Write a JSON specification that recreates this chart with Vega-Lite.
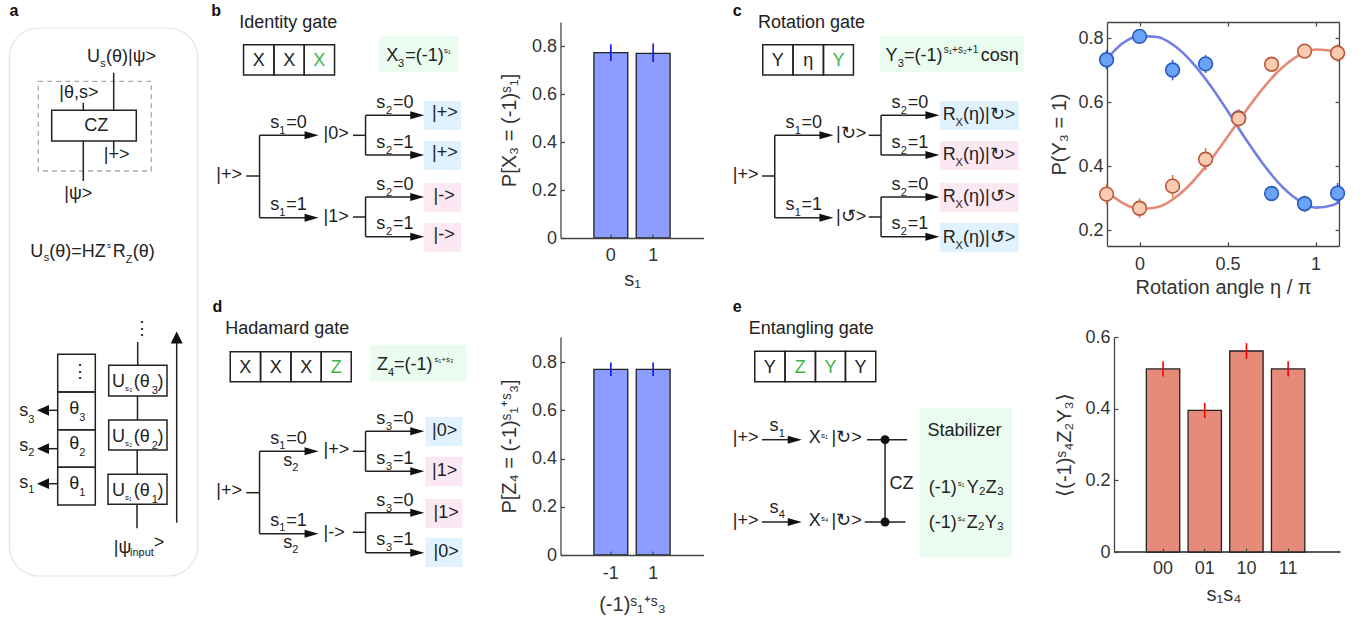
{"$schema":"https://vega.github.io/schema/vega-lite/v6.json","padding":0,"background":"white","bounds":"flush","spacing":{"row":0,"column":-0.75},"align":"none","columns":5,
"config":{"view":{"stroke":null},"axis":{"grid":false,"domainColor":"#444","tickColor":"#444","labelColor":"#333","titleColor":"#333","labelFont":"Liberation Sans","titleFont":"Liberation Sans","labelFontSize":18,"titleFontSize":20,"titleFontWeight":"normal","tickSize":-4,"labelPadding":8,"domainWidth":1.3,"tickWidth":1.2,"labelAngle":0}},
"concat":[
{"width":205,"height":21,"encoding":{"x":{"field":"x","type":"quantitative","scale":{"domain":[0,205]},"axis":null},"y":{"field":"y","type":"quantitative","scale":{"domain":[21,0]},"axis":null}},
"layer":[
{"data":{"values":[{"x":0,"y":0,"x2":205,"y2":619}]},"mark":{"type":"rect","fill":"white"},"encoding":{"x2":{"field":"x2"},"y2":{"field":"y2"}}},
{"data":{"values":[{"x":8.3,"y":27,"x2":196.7,"y2":575}]},"mark":{"type":"rect","fill":null,"stroke":"#e6e6e6","strokeWidth":1.2,"cornerRadius":30},"encoding":{"x2":{"field":"x2"},"y2":{"field":"y2"}}},
{"data":{"values":[{"x":37.3,"y":80.3,"x2":150.3,"y2":170}]},"mark":{"type":"rect","fill":null,"stroke":"#aaa","strokeWidth":1.3,"strokeDash":[5,4]},"encoding":{"x2":{"field":"x2"},"y2":{"field":"y2"}}},
{"data":{"values":[{"x":50.7,"y":109.3,"x2":135.3,"y2":140},{"x":56.7,"y":353.3,"x2":94.3,"y2":391},{"x":56.7,"y":391,"x2":94.3,"y2":428.7},{"x":56.7,"y":428.7,"x2":94.3,"y2":466.3},{"x":56.7,"y":466.3,"x2":94.3,"y2":504},{"x":107.7,"y":364.3,"x2":166,"y2":395},{"x":107.7,"y":419,"x2":166,"y2":449},{"x":107,"y":473.3,"x2":166,"y2":503.3}]},"mark":{"type":"rect","fill":null,"stroke":"#222","strokeWidth":1.5},"encoding":{"x2":{"field":"x2"},"y2":{"field":"y2"}}},
{"data":{"values":[{"x":112.7,"y":71.7,"x2":112.7,"y2":109.3},{"x":82.3,"y":101.7,"x2":82.3,"y2":109.3},{"x":82.3,"y":140,"x2":82.3,"y2":180},{"x":112.7,"y":140,"x2":112.7,"y2":148.3},{"x":56.7,"y":409.3,"x2":44,"y2":409.3},{"x":56.7,"y":447.7,"x2":44,"y2":447.7},{"x":56.7,"y":482.7,"x2":44,"y2":482.7},{"x":136.7,"y":341,"x2":136.7,"y2":364.3},{"x":136.5,"y":395,"x2":136.5,"y2":419},{"x":136.2,"y":449,"x2":136.2,"y2":473.3},{"x":136,"y":503.3,"x2":136,"y2":527.3},{"x":175.7,"y":521.7,"x2":175.7,"y2":340}]},"mark":{"type":"rule","color":"#222","strokeWidth":1.5},"encoding":{"x2":{"field":"x2"},"y2":{"field":"y2"}}},
{"data":{"values":[{"x":42,"y":409.3},{"x":42,"y":447.7},{"x":42,"y":482.7}]},"mark":{"type":"point","shape":"M1,-0.9 L-1,0 L1,0.9 Z","filled":true,"opacity":1,"color":"#111","size":144}},
{"data":{"values":[{"x":175.7,"y":336.5}]},"mark":{"type":"point","shape":"M-1,1 L0,-1 L1,1 Z","filled":true,"opacity":1,"color":"#111","size":144}},
{"data":{"values":[{"x":86,"y":61,"t":"U"},{"x":105,"y":61,"t":"(θ)|ψ>"},{"x":58.3,"y":97.3,"t":"|θ,s>"},{"x":102.7,"y":159.3,"t":"|+>"},{"x":63.3,"y":198.3,"t":"|ψ>"},{"x":29.3,"y":256,"t":"U"},{"x":48.3,"y":256,"t":"(θ)=HZ"},{"x":111.7,"y":256,"t":"R"},{"x":131.7,"y":256,"t":"(θ)"},{"x":68.3,"y":413.3,"t":"θ"},{"x":68.3,"y":448.3,"t":"θ"},{"x":68.3,"y":487.7,"t":"θ"},{"x":18.3,"y":415,"t":"s"},{"x":18.3,"y":450,"t":"s"},{"x":18.3,"y":487,"t":"s"},{"x":111,"y":386,"t":"U"},{"x":132.7,"y":386,"t":"(θ"},{"x":156.5,"y":386,"t":")"},{"x":111,"y":440.7,"t":"U"},{"x":132.7,"y":440.7,"t":"(θ"},{"x":156.5,"y":440.7,"t":")"},{"x":111,"y":495,"t":"U"},{"x":132.7,"y":495,"t":"(θ"},{"x":156.5,"y":495,"t":")"},{"x":112.7,"y":551.7,"t":"|ψ"},{"x":152.7,"y":547,"t":">"},{"x":69.5,"y":376,"t":"⋮"},{"x":132,"y":333,"t":"⋮"}]},"mark":{"type":"text","align":"left","baseline":"alphabetic","font":"Liberation Sans","fontSize":18,"color":"#222"},"encoding":{"text":{"field":"t","type":"nominal"}}},
{"data":{"values":[{"x":95.3,"y":130,"t":"CZ"}]},"mark":{"type":"text","align":"center","baseline":"alphabetic","font":"Liberation Sans","fontSize":18,"color":"#222"},"encoding":{"text":{"field":"t","type":"nominal"}}},
{"data":{"values":[{"x":124.7,"y":262,"t":"Z"},{"x":42.7,"y":260,"t":"s"},{"x":78.3,"y":420,"t":"3"},{"x":78.3,"y":455,"t":"2"},{"x":78.3,"y":495,"t":"1"},{"x":27.3,"y":421.7,"t":"3"},{"x":27.3,"y":455,"t":"2"},{"x":27.3,"y":492,"t":"1"},{"x":150.7,"y":393,"t":"3"},{"x":150.7,"y":447.7,"t":"2"},{"x":150.7,"y":502,"t":"1"},{"x":129,"y":555,"t":"input"},{"x":99.3,"y":66,"t":"s"}]},"mark":{"type":"text","align":"left","baseline":"alphabetic","font":"Liberation Sans","fontSize":11,"color":"#222"},"encoding":{"text":{"field":"t","type":"nominal"}}},
{"data":{"values":[{"x":106,"y":247,"t":"s"},{"x":124,"y":390,"t":"s₃"},{"x":124,"y":444.7,"t":"s₂"},{"x":124,"y":499,"t":"s₁"}]},"mark":{"type":"text","align":"left","baseline":"alphabetic","font":"Liberation Sans","fontSize":8,"color":"#222"},"encoding":{"text":{"field":"t","type":"nominal"}}},
{"data":{"values":[{"x":8.5,"y":15,"t":"a"}]},"mark":{"type":"text","align":"left","baseline":"alphabetic","font":"Liberation Sans","fontSize":16,"fontWeight":"bold","color":"#111"},"encoding":{"text":{"field":"t","type":"nominal"}}}
]},
{"width":1,"height":21,"data":{"values":[{"x":0}]},"mark":{"type":"rule","opacity":0},"encoding":{}},
{"width":1,"height":21,"data":{"values":[{"x":0}]},"mark":{"type":"rule","opacity":0},"encoding":{}},
{"width":1,"height":21,"data":{"values":[{"x":0}]},"mark":{"type":"rule","opacity":0},"encoding":{}},
{"width":1,"height":21,"data":{"values":[{"x":0}]},"mark":{"type":"rule","opacity":0},"encoding":{}},
{"width":205,"height":1,"data":{"values":[{"x":0}]},"mark":{"type":"rule","opacity":0},"encoding":{}},
{"width":356,"height":216,"encoding":{"x":{"field":"x","type":"quantitative","scale":{"domain":[205,561]},"axis":null},"y":{"field":"y","type":"quantitative","scale":{"domain":[237,21]},"axis":null}},
"layer":[
{"data":{"values":[{"x":379,"y":35,"x2":457.7,"y2":71,"tone":"green"},{"x":424,"y":100,"x2":460.7,"y2":129,"tone":"blue"},{"x":424,"y":140,"x2":460.7,"y2":169,"tone":"blue"},{"x":424,"y":182,"x2":460.7,"y2":211,"tone":"pink"},{"x":424,"y":222,"x2":460.7,"y2":250.7,"tone":"pink"}]},"mark":{"type":"rect"},"encoding":{"x2":{"field":"x2"},"y2":{"field":"y2"},"color":{"field":"tone","type":"nominal","legend":null,"scale":{"domain":["green","blue","pink"],"range":["#e9fcef","#e0f2fd","#fce8f3"]}}}},
{"data":{"values":[{"x":243.3,"y":43.7,"x2":273.7,"y2":74},{"x":273.7,"y":43.7,"x2":304,"y2":74},{"x":304,"y":43.7,"x2":334.3,"y2":74}]},"mark":{"type":"rect","fill":null,"stroke":"#222","strokeWidth":1.5},"encoding":{"x2":{"field":"x2"},"y2":{"field":"y2"}}},
{"data":{"values":[{"x":246,"y":175,"x2":259.3,"y2":175},{"x":259.3,"y":134.3,"x2":259.3,"y2":216.7},{"x":259.3,"y":134.3,"x2":310,"y2":134.3},{"x":259.3,"y":216.7,"x2":310,"y2":216.7},{"x":352.7,"y":134.3,"x2":365.3,"y2":134.3},{"x":365.3,"y":114.3,"x2":365.3,"y2":154},{"x":365.3,"y":114.3,"x2":416,"y2":114.3},{"x":365.3,"y":154,"x2":416,"y2":154},{"x":352.7,"y":216,"x2":365.3,"y2":216},{"x":365.3,"y":196,"x2":365.3,"y2":235.7},{"x":365.3,"y":196,"x2":416,"y2":196},{"x":365.3,"y":235.7,"x2":416,"y2":235.7}]},"mark":{"type":"rule","color":"#222","strokeWidth":1.5},"encoding":{"x2":{"field":"x2"},"y2":{"field":"y2"}}},
{"data":{"values":[{"x":311.3,"y":134.3},{"x":311.3,"y":216.7},{"x":417,"y":114.3},{"x":417,"y":154},{"x":417,"y":196},{"x":417,"y":235.7}]},"mark":{"type":"point","shape":"M-1,-0.57 L1,0 L-1,0.57 Z","filled":true,"opacity":1,"color":"#111","size":196}},
{"data":{"values":[{"x":239,"y":27,"t":"Identity gate"},{"x":386,"y":60,"t":"X"},{"x":405,"y":60,"t":"=(-1)"},{"x":216,"y":179,"t":"|+>"},{"x":270,"y":126.7,"t":"s"},{"x":286,"y":126.7,"t":"=0"},{"x":270,"y":209,"t":"s"},{"x":286,"y":209,"t":"=1"},{"x":323.3,"y":138.3,"t":"|0>"},{"x":323.3,"y":220.7,"t":"|1>"},{"x":376,"y":107.3,"t":"s"},{"x":392.7,"y":107.3,"t":"=0"},{"x":376,"y":147,"t":"s"},{"x":392.7,"y":147,"t":"=1"},{"x":376,"y":189,"t":"s"},{"x":392.7,"y":189,"t":"=0"},{"x":376,"y":228.3,"t":"s"},{"x":392.7,"y":228.3,"t":"=1"},{"x":431.7,"y":117.3,"t":"|+>"},{"x":431.7,"y":157.3,"t":"|+>"},{"x":433.3,"y":200,"t":"|->"},{"x":433.3,"y":238.7,"t":"|->"}]},"mark":{"type":"text","align":"left","baseline":"alphabetic","font":"Liberation Sans","fontSize":18,"color":"#222"},"encoding":{"text":{"field":"t","type":"nominal"}}},
{"data":{"values":[{"x":258.5,"y":65,"t":"X"},{"x":289,"y":65,"t":"X"}]},"mark":{"type":"text","align":"center","baseline":"alphabetic","font":"Liberation Sans","fontSize":18,"color":"#222"},"encoding":{"text":{"field":"t","type":"nominal"}}},
{"data":{"values":[{"x":319,"y":65,"t":"X"}]},"mark":{"type":"text","align":"center","baseline":"alphabetic","font":"Liberation Sans","fontSize":18,"color":"#3cb54a"},"encoding":{"text":{"field":"t","type":"nominal"}}},
{"data":{"values":[{"x":397.7,"y":65.7,"t":"3"},{"x":279,"y":132.7,"t":"1"},{"x":279,"y":215,"t":"1"},{"x":385.7,"y":113,"t":"2"},{"x":385.7,"y":153,"t":"2"},{"x":385.7,"y":195,"t":"2"},{"x":385.7,"y":234,"t":"2"}]},"mark":{"type":"text","align":"left","baseline":"alphabetic","font":"Liberation Sans","fontSize":11,"color":"#222"},"encoding":{"text":{"field":"t","type":"nominal"}}},
{"data":{"values":[{"x":443.7,"y":51.7,"t":"s₁"}]},"mark":{"type":"text","align":"left","baseline":"alphabetic","font":"Liberation Sans","fontSize":8,"color":"#222"},"encoding":{"text":{"field":"t","type":"nominal"}}},
{"data":{"values":[{"x":211,"y":15.3,"t":"b"}]},"mark":{"type":"text","align":"left","baseline":"alphabetic","font":"Liberation Sans","fontSize":16,"fontWeight":"bold","color":"#111"},"encoding":{"text":{"field":"t","type":"nominal"}}}
]},
{"width":143,"height":216,"data":{"values":[{"s":"0","v":0.772,"lo":0.737,"hi":0.807},{"s":"1","v":0.769,"lo":0.733,"hi":0.81}]},"encoding":{"x":{"field":"s","type":"nominal","sort":null,"scale":{"type":"band","paddingInner":0.2,"paddingOuter":0.79},"axis":{"title":"s₁","titlePadding":5,"labelPadding":12,"zindex":1}}},
"layer":[
{"mark":{"type":"bar","fill":"#8c9cff","stroke":"#222","strokeWidth":1.3},"encoding":{"y":{"field":"v","type":"quantitative","scale":{"domain":[0,0.9],"nice":false},"axis":{"values":[0,0.2,0.4,0.6,0.8],"format":".1~f","title":"P[X₃ = (-1)ˢ₁]","titlePadding":12}}}},
{"mark":{"type":"rule","color":"#0a14f0","strokeWidth":1.6},"encoding":{"y":{"field":"lo","type":"quantitative"},"y2":{"field":"hi"}}}
]},
{"width":405,"height":224,"encoding":{"x":{"field":"x","type":"quantitative","scale":{"domain":[704,1109]},"axis":null},"y":{"field":"y","type":"quantitative","scale":{"domain":[245,21]},"axis":null}},
"layer":[
{"data":{"values":[{"x":881,"y":35,"x2":1025,"y2":71,"tone":"green"},{"x":941,"y":100,"x2":1020,"y2":129,"tone":"blue"},{"x":941,"y":140,"x2":1020,"y2":169,"tone":"pink"},{"x":941,"y":182,"x2":1020,"y2":211,"tone":"pink"},{"x":941,"y":222,"x2":1020,"y2":251,"tone":"blue"}]},"mark":{"type":"rect"},"encoding":{"x2":{"field":"x2"},"y2":{"field":"y2"},"color":{"field":"tone","type":"nominal","legend":null,"scale":{"domain":["green","blue","pink"],"range":["#e9fcef","#e0f2fd","#fce8f3"]}}}},
{"data":{"values":[{"x":764,"y":43.7,"x2":794.3,"y2":74},{"x":794.3,"y":43.7,"x2":824.7,"y2":74},{"x":824.7,"y":43.7,"x2":854.7,"y2":74}]},"mark":{"type":"rect","fill":null,"stroke":"#222","strokeWidth":1.5},"encoding":{"x2":{"field":"x2"},"y2":{"field":"y2"}}},
{"data":{"values":[{"x":763.3,"y":175,"x2":776,"y2":175},{"x":776,"y":134.3,"x2":776,"y2":216.7},{"x":776,"y":134.3,"x2":826,"y2":134.3},{"x":776,"y":216.7,"x2":826,"y2":216.7},{"x":870,"y":134.3,"x2":882.3,"y2":134.3},{"x":882.3,"y":114.3,"x2":882.3,"y2":154},{"x":882.3,"y":114.3,"x2":932,"y2":114.3},{"x":882.3,"y":154,"x2":932,"y2":154},{"x":870,"y":216,"x2":882.3,"y2":216},{"x":882.3,"y":196,"x2":882.3,"y2":235.7},{"x":882.3,"y":196,"x2":932,"y2":196},{"x":882.3,"y":235.7,"x2":932,"y2":235.7}]},"mark":{"type":"rule","color":"#222","strokeWidth":1.5},"encoding":{"x2":{"field":"x2"},"y2":{"field":"y2"}}},
{"data":{"values":[{"x":827.7,"y":134.3},{"x":827.7,"y":216.7},{"x":933.7,"y":114.3},{"x":933.7,"y":154},{"x":933.7,"y":196},{"x":933.7,"y":235.7}]},"mark":{"type":"point","shape":"M-1,-0.57 L1,0 L-1,0.57 Z","filled":true,"opacity":1,"color":"#111","size":196}},
{"data":{"values":[{"x":759.3,"y":27,"t":"Rotation gate"},{"x":886.7,"y":60,"t":"Y"},{"x":905.3,"y":60,"t":"=(-1)"},{"x":982,"y":60,"t":"cosη"},{"x":734,"y":179,"t":"|+>"},{"x":786.7,"y":126.7,"t":"s"},{"x":802.7,"y":126.7,"t":"=0"},{"x":786.7,"y":209,"t":"s"},{"x":802.7,"y":209,"t":"=1"},{"x":837.3,"y":138.3,"t":"|↻>"},{"x":837.3,"y":220.7,"t":"|↺>"},{"x":892.7,"y":107.3,"t":"s"},{"x":909,"y":107.3,"t":"=0"},{"x":892.7,"y":147,"t":"s"},{"x":909,"y":147,"t":"=1"},{"x":892.7,"y":189,"t":"s"},{"x":909,"y":189,"t":"=0"},{"x":892.7,"y":228.3,"t":"s"},{"x":909,"y":228.3,"t":"=1"},{"x":944,"y":119.3,"t":"R"},{"x":964.3,"y":119.3,"t":"(η)|↻>"},{"x":944,"y":159.3,"t":"R"},{"x":964.3,"y":159.3,"t":"(η)|↻>"},{"x":944,"y":201,"t":"R"},{"x":964.3,"y":201,"t":"(η)|↺>"},{"x":944,"y":241.7,"t":"R"},{"x":964.3,"y":241.7,"t":"(η)|↺>"}]},"mark":{"type":"text","align":"left","baseline":"alphabetic","font":"Liberation Sans","fontSize":18,"color":"#222"},"encoding":{"text":{"field":"t","type":"nominal"}}},
{"data":{"values":[{"x":779,"y":65,"t":"Y"},{"x":809.5,"y":65,"t":"η"}]},"mark":{"type":"text","align":"center","baseline":"alphabetic","font":"Liberation Sans","fontSize":18,"color":"#222"},"encoding":{"text":{"field":"t","type":"nominal"}}},
{"data":{"values":[{"x":839.7,"y":65,"t":"Y"}]},"mark":{"type":"text","align":"center","baseline":"alphabetic","font":"Liberation Sans","fontSize":18,"color":"#3cb54a"},"encoding":{"text":{"field":"t","type":"nominal"}}},
{"data":{"values":[{"x":899,"y":66,"t":"3"},{"x":796,"y":132.7,"t":"1"},{"x":796,"y":215,"t":"1"},{"x":902,"y":113,"t":"2"},{"x":902,"y":153,"t":"2"},{"x":902,"y":195,"t":"2"},{"x":902,"y":234,"t":"2"},{"x":956.7,"y":125,"t":"X"},{"x":956.7,"y":165,"t":"X"},{"x":956.7,"y":207,"t":"X"},{"x":956.7,"y":247.5,"t":"X"}]},"mark":{"type":"text","align":"left","baseline":"alphabetic","font":"Liberation Sans","fontSize":11,"color":"#222"},"encoding":{"text":{"field":"t","type":"nominal"}}},
{"data":{"values":[{"x":945,"y":52,"t":"s₁+s₂+1"}]},"mark":{"type":"text","align":"left","baseline":"alphabetic","font":"Liberation Sans","fontSize":10,"color":"#222"},"encoding":{"text":{"field":"t","type":"nominal"}}},
{"data":{"values":[{"x":734,"y":15.3,"t":"c"}]},"mark":{"type":"text","align":"left","baseline":"alphabetic","font":"Liberation Sans","fontSize":16,"fontWeight":"bold","color":"#111"},"encoding":{"text":{"field":"t","type":"nominal"}}}
]},
{"width":232,"height":224,"resolve":{"axis":{"x":"independent","y":"independent"}},
"encoding":{"x":{"field":"x","type":"quantitative","scale":{"domain":[-0.185,1.133],"nice":false},"axis":null},"y":{"field":"y","type":"quantitative","scale":{"domain":[0.15,0.85],"nice":false},"axis":null}},
"layer":[
{"data":{"values":[{"x":0,"y":0.5}]},"mark":{"type":"point","opacity":0},"encoding":{"x":{"field":"x","type":"quantitative","scale":{"domain":[-0.185,1.133],"nice":false},"axis":{"values":[0,0.5,1],"format":"~g","title":"Rotation angle η / π","titlePadding":4,"labelPadding":13}},"y":{"field":"y","type":"quantitative","scale":{"domain":[0.15,0.85],"nice":false},"axis":{"values":[0.2,0.4,0.6,0.8],"format":".1f","title":"P(Y₃ = 1)","titlePadding":8}}}},
{"data":{"values":[{"x":0,"y":0.5}]},"mark":{"type":"point","opacity":0},"encoding":{"x":{"field":"x","type":"quantitative","scale":{"domain":[-0.185,1.133],"nice":false},"axis":{"orient":"top","values":[0,0.5,1],"labels":false,"title":null}},"y":{"field":"y","type":"quantitative","scale":{"domain":[0.15,0.85],"nice":false},"axis":{"orient":"right","values":[0.2,0.4,0.6,0.8],"labels":false,"title":null}}}},
{"data":{"values":[{"x":-0.185,"y":0.735},{"x":-0.1,"y":0.782},{"x":0,"y":0.806},{"x":0.1,"y":0.803},{"x":0.2,"y":0.775},{"x":0.3,"y":0.723},{"x":0.4,"y":0.653},{"x":0.5,"y":0.572},{"x":0.6,"y":0.487},{"x":0.7,"y":0.408},{"x":0.8,"y":0.341},{"x":0.9,"y":0.294},{"x":1,"y":0.27},{"x":1.1,"y":0.278},{"x":1.133,"y":0.288}]},"mark":{"type":"line","color":"#717fe0","strokeWidth":2.6,"interpolate":"monotone"}},
{"data":{"values":[{"x":-0.1875,"lo":0.702,"hi":0.762},{"x":0,"lo":0.785,"hi":0.825},{"x":0.1875,"lo":0.668,"hi":0.732},{"x":0.375,"lo":0.691,"hi":0.747},{"x":0.5625,"lo":0.525,"hi":0.575},{"x":0.75,"lo":0.299,"hi":0.329},{"x":0.9375,"lo":0.257,"hi":0.307},{"x":1.125,"lo":0.283,"hi":0.347}]},"mark":{"type":"rule","color":"#2a60e0","strokeWidth":1.6},"encoding":{"y":{"field":"lo","type":"quantitative","scale":{"domain":[0.15,0.85],"nice":false},"axis":null},"y2":{"field":"hi"}}},
{"data":{"values":[{"x":-0.1875,"y":0.732},{"x":0,"y":0.805},{"x":0.1875,"y":0.7},{"x":0.375,"y":0.719},{"x":0.5625,"y":0.55},{"x":0.75,"y":0.314},{"x":0.9375,"y":0.282},{"x":1.125,"y":0.315}]},"mark":{"type":"point","filled":true,"fill":"#6aa3f5","stroke":"#2a5cc0","strokeWidth":1.6,"opacity":1,"size":190}},
{"data":{"values":[{"x":-0.185,"y":0.32},{"x":-0.1,"y":0.2855},{"x":0,"y":0.266},{"x":0.1,"y":0.271},{"x":0.2,"y":0.3},{"x":0.3,"y":0.35},{"x":0.4,"y":0.416},{"x":0.5,"y":0.4915},{"x":0.6,"y":0.5695},{"x":0.7,"y":0.642},{"x":0.8,"y":0.7025},{"x":0.9,"y":0.7445},{"x":1,"y":0.764},{"x":1.1,"y":0.759},{"x":1.133,"y":0.752}]},"mark":{"type":"line","color":"#e68a78","strokeWidth":2.6,"interpolate":"monotone"}},
{"data":{"values":[{"x":-0.1875,"lo":0.279,"hi":0.345},{"x":0,"lo":0.237,"hi":0.299},{"x":0.1875,"lo":0.302,"hi":0.372},{"x":0.375,"lo":0.386,"hi":0.456},{"x":0.5625,"lo":0.518,"hi":0.578},{"x":0.75,"lo":0.698,"hi":0.738},{"x":0.9375,"lo":0.744,"hi":0.774},{"x":1.125,"lo":0.725,"hi":0.781}]},"mark":{"type":"rule","color":"#f0703c","strokeWidth":1.6},"encoding":{"y":{"field":"lo","type":"quantitative","scale":{"domain":[0.15,0.85],"nice":false},"axis":null},"y2":{"field":"hi"}}},
{"data":{"values":[{"x":-0.1875,"y":0.312},{"x":0,"y":0.268},{"x":0.1875,"y":0.337},{"x":0.375,"y":0.421},{"x":0.5625,"y":0.548},{"x":0.75,"y":0.718},{"x":0.9375,"y":0.759},{"x":1.125,"y":0.753}]},"mark":{"type":"point","filled":true,"fill":"#fccab0","stroke":"#b5583a","strokeWidth":1.6,"opacity":1,"size":190}}
]},
{"width":205,"height":91,"data":{"values":[{"x":0}]},"mark":{"type":"rule","opacity":0},"encoding":{}},
{"width":1,"height":91,"data":{"values":[{"x":0}]},"mark":{"type":"rule","opacity":0},"encoding":{}},
{"width":1,"height":91,"data":{"values":[{"x":0}]},"mark":{"type":"rule","opacity":0},"encoding":{}},
{"width":1,"height":91,"data":{"values":[{"x":0}]},"mark":{"type":"rule","opacity":0},"encoding":{}},
{"width":1,"height":91,"data":{"values":[{"x":0}]},"mark":{"type":"rule","opacity":0},"encoding":{}},
{"width":205,"height":1,"data":{"values":[{"x":0}]},"mark":{"type":"rule","opacity":0},"encoding":{}},
{"width":356,"height":218,"encoding":{"x":{"field":"x","type":"quantitative","scale":{"domain":[205,561]},"axis":null},"y":{"field":"y","type":"quantitative","scale":{"domain":[554,336]},"axis":null}},
"layer":[
{"data":{"values":[{"x":370,"y":344,"x2":466.7,"y2":380,"tone":"green"},{"x":425,"y":416,"x2":462,"y2":445,"tone":"blue"},{"x":425,"y":456,"x2":462,"y2":485,"tone":"pink"},{"x":425,"y":498,"x2":462,"y2":527,"tone":"pink"},{"x":425,"y":537,"x2":462,"y2":566,"tone":"blue"}]},"mark":{"type":"rect"},"encoding":{"x2":{"field":"x2"},"y2":{"field":"y2"},"color":{"field":"tone","type":"nominal","legend":null,"scale":{"domain":["green","blue","pink"],"range":["#e9fcef","#e0f2fd","#fce8f3"]}}}},
{"data":{"values":[{"x":230,"y":350.7,"x2":260.3,"y2":380.7},{"x":260.3,"y":350.7,"x2":290.7,"y2":380.7},{"x":290.7,"y":350.7,"x2":321,"y2":380.7},{"x":321,"y":350.7,"x2":351,"y2":380.7}]},"mark":{"type":"rect","fill":null,"stroke":"#222","strokeWidth":1.5},"encoding":{"x2":{"field":"x2"},"y2":{"field":"y2"}}},
{"data":{"values":[{"x":246,"y":491.7,"x2":259.3,"y2":491.7},{"x":259.3,"y":450.3,"x2":259.3,"y2":532.7},{"x":259.3,"y":450.3,"x2":310,"y2":450.3},{"x":259.3,"y":532.7,"x2":310,"y2":532.7},{"x":352.7,"y":450.3,"x2":365.3,"y2":450.3},{"x":365.3,"y":430.3,"x2":365.3,"y2":470.3},{"x":365.3,"y":430.3,"x2":416,"y2":430.3},{"x":365.3,"y":470.3,"x2":416,"y2":470.3},{"x":352.7,"y":531.3,"x2":365.3,"y2":531.3},{"x":365.3,"y":511.7,"x2":365.3,"y2":551.7},{"x":365.3,"y":511.7,"x2":416,"y2":511.7},{"x":365.3,"y":551.7,"x2":416,"y2":551.7}]},"mark":{"type":"rule","color":"#222","strokeWidth":1.5},"encoding":{"x2":{"field":"x2"},"y2":{"field":"y2"}}},
{"data":{"values":[{"x":311.3,"y":450.3},{"x":311.3,"y":532.7},{"x":417,"y":430.3},{"x":417,"y":470.3},{"x":417,"y":511.7},{"x":417,"y":551.7}]},"mark":{"type":"point","shape":"M-1,-0.57 L1,0 L-1,0.57 Z","filled":true,"opacity":1,"color":"#111","size":196}},
{"data":{"values":[{"x":225,"y":333.3,"t":"Hadamard gate"},{"x":376.7,"y":369.3,"t":"Z"},{"x":393.7,"y":369.3,"t":"=(-1)"},{"x":216,"y":495.3,"t":"|+>"},{"x":270,"y":442.7,"t":"s"},{"x":286,"y":442.7,"t":"=0"},{"x":283,"y":464.5,"t":"s"},{"x":270,"y":525,"t":"s"},{"x":286,"y":525,"t":"=1"},{"x":283,"y":547,"t":"s"},{"x":323.3,"y":454.3,"t":"|+>"},{"x":323.3,"y":536.7,"t":"|->"},{"x":376,"y":423.3,"t":"s"},{"x":392.7,"y":423.3,"t":"=0"},{"x":376,"y":463,"t":"s"},{"x":392.7,"y":463,"t":"=1"},{"x":376,"y":505,"t":"s"},{"x":392.7,"y":505,"t":"=0"},{"x":376,"y":544.3,"t":"s"},{"x":392.7,"y":544.3,"t":"=1"},{"x":431.7,"y":435,"t":"|0>"},{"x":431.7,"y":475,"t":"|1>"},{"x":433.3,"y":516.7,"t":"|1>"},{"x":433.3,"y":556,"t":"|0>"}]},"mark":{"type":"text","align":"left","baseline":"alphabetic","font":"Liberation Sans","fontSize":18,"color":"#222"},"encoding":{"text":{"field":"t","type":"nominal"}}},
{"data":{"values":[{"x":245,"y":371.7,"t":"X"},{"x":275.5,"y":371.7,"t":"X"},{"x":306,"y":371.7,"t":"X"}]},"mark":{"type":"text","align":"center","baseline":"alphabetic","font":"Liberation Sans","fontSize":18,"color":"#222"},"encoding":{"text":{"field":"t","type":"nominal"}}},
{"data":{"values":[{"x":336,"y":371.7,"t":"Z"}]},"mark":{"type":"text","align":"center","baseline":"alphabetic","font":"Liberation Sans","fontSize":18,"color":"#3cb54a"},"encoding":{"text":{"field":"t","type":"nominal"}}},
{"data":{"values":[{"x":387.7,"y":375,"t":"4"},{"x":279,"y":447.5,"t":"1"},{"x":292,"y":469.5,"t":"2"},{"x":279,"y":530,"t":"1"},{"x":292,"y":552,"t":"2"},{"x":385.7,"y":429.3,"t":"3"},{"x":385.7,"y":469,"t":"3"},{"x":385.7,"y":511,"t":"3"},{"x":385.7,"y":550.3,"t":"3"}]},"mark":{"type":"text","align":"left","baseline":"alphabetic","font":"Liberation Sans","fontSize":11,"color":"#222"},"encoding":{"text":{"field":"t","type":"nominal"}}},
{"data":{"values":[{"x":434.3,"y":360.7,"t":"s₁+s₃"}]},"mark":{"type":"text","align":"left","baseline":"alphabetic","font":"Liberation Sans","fontSize":8,"color":"#222"},"encoding":{"text":{"field":"t","type":"nominal"}}},
{"data":{"values":[{"x":212.3,"y":311,"t":"d"}]},"mark":{"type":"text","align":"left","baseline":"alphabetic","font":"Liberation Sans","fontSize":16,"fontWeight":"bold","color":"#111"},"encoding":{"text":{"field":"t","type":"nominal"}}}
]},
{"width":143,"height":218,"data":{"values":[{"s":"-1","v":0.77,"lo":0.742,"hi":0.798},{"s":"1","v":0.77,"lo":0.742,"hi":0.798}]},"encoding":{"x":{"field":"s","type":"nominal","sort":null,"scale":{"type":"band","paddingInner":0.2,"paddingOuter":0.79},"axis":{"title":"(-1)ˢ₁⁺ˢ₃","titlePadding":12,"labelPadding":13,"zindex":1}}},
"layer":[
{"mark":{"type":"bar","fill":"#8c9cff","stroke":"#222","strokeWidth":1.3},"encoding":{"y":{"field":"v","type":"quantitative","scale":{"domain":[0,0.904],"nice":false},"axis":{"values":[0,0.2,0.4,0.6,0.8],"format":".1~f","title":"P[Z₄ = (-1)ˢ₁⁺ˢ₃]","titlePadding":12}}}},
{"mark":{"type":"rule","color":"#0a14f0","strokeWidth":1.6},"encoding":{"y":{"field":"lo","type":"quantitative"},"y2":{"field":"hi"}}}
]},
{"width":405,"height":215,"encoding":{"x":{"field":"x","type":"quantitative","scale":{"domain":[704,1109]},"axis":null},"y":{"field":"y","type":"quantitative","scale":{"domain":[551,336]},"axis":null}},
"layer":[
{"data":{"values":[{"x":921,"y":407,"x2":1013,"y2":556,"tone":"green"}]},"mark":{"type":"rect"},"encoding":{"x2":{"field":"x2"},"y2":{"field":"y2"},"color":{"field":"tone","type":"nominal","legend":null,"scale":{"domain":["green"],"range":["#e9fcef"]}}}},
{"data":{"values":[{"x":756,"y":350.3,"x2":786.3,"y2":380.7},{"x":786.3,"y":350.3,"x2":816.7,"y2":380.7},{"x":816.7,"y":350.3,"x2":846.7,"y2":380.7},{"x":846.7,"y":350.3,"x2":877,"y2":380.7}]},"mark":{"type":"rect","fill":null,"stroke":"#222","strokeWidth":1.5},"encoding":{"x2":{"field":"x2"},"y2":{"field":"y2"}}},
{"data":{"values":[{"x":763.3,"y":438.7,"x2":795,"y2":438.7},{"x":763.3,"y":521,"x2":795,"y2":521},{"x":868.3,"y":438.7,"x2":908.3,"y2":438.7},{"x":866,"y":521,"x2":906.7,"y2":521},{"x":886.3,"y":438.7,"x2":886.3,"y2":521},{"x":1116,"y":551,"x2":1341.7,"y2":551}]},"mark":{"type":"rule","color":"#222","strokeWidth":1.5},"encoding":{"x2":{"field":"x2"},"y2":{"field":"y2"}}},
{"data":{"values":[{"x":796,"y":438.7},{"x":796,"y":521}]},"mark":{"type":"point","shape":"M-1,-0.57 L1,0 L-1,0.57 Z","filled":true,"opacity":1,"color":"#111","size":196}},
{"data":{"values":[{"x":886.3,"y":438.7},{"x":886.3,"y":521}]},"mark":{"type":"circle","color":"#111","opacity":1,"size":80}},
{"data":{"values":[{"x":750,"y":333.3,"t":"Entangling gate"},{"x":928.7,"y":435.3,"t":"Stabilizer"},{"x":930,"y":491.7,"t":"(-1)"},{"x":968,"y":491.7,"t":"Y₂Z₃"},{"x":930,"y":526.7,"t":"(-1)"},{"x":968,"y":526.7,"t":"Z₂Y₃"},{"x":734,"y":442.3,"t":"|+>"},{"x":734,"y":525,"t":"|+>"},{"x":770.7,"y":430,"t":"s"},{"x":770.7,"y":511.7,"t":"s"},{"x":810,"y":442.3,"t":"X"},{"x":810,"y":525,"t":"X"},{"x":832.7,"y":442.3,"t":"|↻>"},{"x":832.7,"y":525,"t":"|↻>"},{"x":890.7,"y":487.7,"t":"CZ"}]},"mark":{"type":"text","align":"left","baseline":"alphabetic","font":"Liberation Sans","fontSize":18,"color":"#222"},"encoding":{"text":{"field":"t","type":"nominal"}}},
{"data":{"values":[{"x":771,"y":372,"t":"Y"},{"x":861.8,"y":372,"t":"Y"}]},"mark":{"type":"text","align":"center","baseline":"alphabetic","font":"Liberation Sans","fontSize":18,"color":"#222"},"encoding":{"text":{"field":"t","type":"nominal"}}},
{"data":{"values":[{"x":801.5,"y":372,"t":"Z"},{"x":831.7,"y":372,"t":"Y"}]},"mark":{"type":"text","align":"center","baseline":"alphabetic","font":"Liberation Sans","fontSize":18,"color":"#3cb54a"},"encoding":{"text":{"field":"t","type":"nominal"}}},
{"data":{"values":[{"x":780,"y":436,"t":"1"},{"x":780,"y":517,"t":"4"}]},"mark":{"type":"text","align":"left","baseline":"alphabetic","font":"Liberation Sans","fontSize":11,"color":"#222"},"encoding":{"text":{"field":"t","type":"nominal"}}},
{"data":{"values":[{"x":822.3,"y":436.7,"t":"s₁"},{"x":822.3,"y":519.5,"t":"s₄"},{"x":959,"y":485,"t":"s₁"},{"x":959,"y":520,"t":"s₄"}]},"mark":{"type":"text","align":"left","baseline":"alphabetic","font":"Liberation Sans","fontSize":8,"color":"#222"},"encoding":{"text":{"field":"t","type":"nominal"}}},
{"data":{"values":[{"x":734,"y":311,"t":"e"}]},"mark":{"type":"text","align":"left","baseline":"alphabetic","font":"Liberation Sans","fontSize":16,"fontWeight":"bold","color":"#111"},"encoding":{"text":{"field":"t","type":"nominal"}}}
]},
{"width":233,"height":215,"data":{"values":[{"s":"00","v":0.511,"lo":0.49,"hi":0.532},{"s":"01","v":0.395,"lo":0.374,"hi":0.416},{"s":"10","v":0.561,"lo":0.539,"hi":0.583},{"s":"11","v":0.511,"lo":0.49,"hi":0.532}]},"encoding":{"x":{"field":"s","type":"nominal","sort":null,"scale":{"type":"band","paddingInner":0.2,"paddingOuter":0.894,"align":0.528},"axis":{"title":"s₁s₄","titlePadding":7,"labelPadding":11,"zindex":1,"domain":false}}},
"layer":[
{"mark":{"type":"bar","fill":"#e68a7a","stroke":"#222","strokeWidth":1.3},"encoding":{"y":{"field":"v","type":"quantitative","scale":{"domain":[0,0.6],"nice":false},"axis":{"offset":-7,"values":[0,0.2,0.4,0.6],"format":".1~f","title":"⟨(-1)ˢ₄Z₂Y₃⟩","titlePadding":10}}}},
{"mark":{"type":"rule","color":"#ff0000","strokeWidth":1.6},"encoding":{"y":{"field":"lo","type":"quantitative"},"y2":{"field":"hi"}}}
]}
]}
